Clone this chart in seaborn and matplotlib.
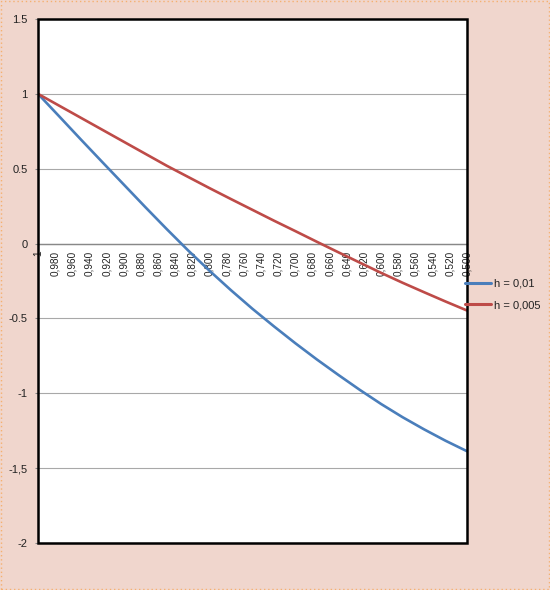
import matplotlib
matplotlib.use("Agg")
import matplotlib.pyplot as plt
import numpy as np
import pandas as pd
import seaborn as sns
from matplotlib.ticker import MultipleLocator
from matplotlib.lines import Line2D
from matplotlib.patches import Rectangle

# ---------------- data ----------------
x_values = [1.000, 0.975, 0.950, 0.925, 0.900, 0.875, 0.850, 0.825, 0.800, 0.775,
            0.750, 0.725, 0.700, 0.675, 0.650, 0.625, 0.600, 0.575, 0.550, 0.525, 0.500]
h_001 = [1.00, 0.848, 0.695, 0.544, 0.394, 0.244, 0.097, -0.046, -0.182, -0.312,
         -0.436, -0.553, -0.666, -0.774, -0.877, -0.977, -1.072, -1.160, -1.241, -1.317, -1.387]
h_0005 = [1.00, 0.92, 0.84, 0.76, 0.68, 0.60, 0.52, 0.445, 0.37, 0.297,
          0.225, 0.153, 0.083, 0.012, -0.058, -0.127, -0.196, -0.262, -0.325, -0.387, -0.447]
series_labels = ["h = 0,01", "h = 0,005"]

x_tick_values = [1.00, 0.98, 0.96, 0.94, 0.92, 0.90, 0.88, 0.86, 0.84, 0.82, 0.80, 0.78, 0.76,
                 0.74, 0.72, 0.70, 0.68, 0.66, 0.64, 0.62, 0.60, 0.58, 0.56, 0.54, 0.52, 0.50]
x_tick_labels = ["1", "0,980", "0,960", "0,940", "0,920", "0,900", "0,880", "0,860", "0,840",
                 "0,820", "0,800", "0,780", "0,760", "0,740", "0,720", "0,700", "0,680", "0,660",
                 "0,640", "0,620", "0,600", "0,580", "0,560", "0,540", "0,520", "0,500"]
y_tick_values = [-2.0, -1.5, -1.0, -0.5, 0.0, 0.5, 1.0, 1.5]
y_tick_labels = ["-2", "-1,5", "-1", "-0.5", "0", "0.5", "1", "1.5"]

# ---------------- styling ----------------
sns.set_theme(style="white")
plt.rcParams["font.family"] = ["Liberation Sans", "DejaVu Sans"]

BG = "#f0d6cd"
BLUE = "#4a7ebb"
RED = "#be4b48"
GRID = "#a8a8a8"
TEXT = "#222222"

W, H = 550, 590
fig = plt.figure(figsize=(W / 100, H / 100), dpi=100, facecolor=BG)
ax = fig.add_axes([38 / W, 1 - 543 / H, (467 - 38) / W, (543 - 19) / H])
ax.set_facecolor("white")

df = pd.DataFrame({
    "x": x_values + x_values,
    "y": h_001 + h_0005,
    "series": [series_labels[0]] * len(x_values) + [series_labels[1]] * len(x_values),
})
sns.lineplot(data=df, x="x", y="y", hue="series", palette=[BLUE, RED],
             hue_order=series_labels, linewidth=1.9, ax=ax, legend=False,
             sort=False, estimator=None, zorder=5)

ax.set_xlim(1.0, 0.5)
ax.set_ylim(-2.0, 1.5)
ax.set_xlabel("")
ax.set_ylabel("")

ax.set_yticks(y_tick_values, y_tick_labels)
ax.set_xticks(x_tick_values, x_tick_labels)
ax.xaxis.set_minor_locator(MultipleLocator(0.005))

ax.yaxis.grid(True, color=GRID, linewidth=0.8)
ax.xaxis.grid(False)
ax.set_axisbelow(True)

# x axis line at zero
for s in ["top", "left", "right"]:
    ax.spines[s].set_visible(False)
ax.spines["bottom"].set_position(("data", 0))
ax.spines["bottom"].set_color("#888888")
ax.spines["bottom"].set_linewidth(1.0)
ax.spines["bottom"].set_zorder(3)

# plot-area border
ax.add_patch(Rectangle((0, 0), 1, 1, transform=ax.transAxes, fill=False,
                       edgecolor="black", linewidth=1.8, clip_on=False, zorder=6))

ax.tick_params(axis="x", which="both", direction="out", length=3, width=0.8,
               color="#888888", labelsize=7.2, pad=2, labelcolor=TEXT,
               labelrotation=90)
ax.tick_params(axis="y", which="major", direction="out", length=2.5, width=0.8,
               color="#888888", labelsize=8, pad=5, labelcolor=TEXT, left=True)

handles = [Line2D([], [], color=BLUE, linewidth=2.2),
           Line2D([], [], color=RED, linewidth=2.2)]
fig.legend(handles=handles, labels=series_labels, loc="center left",
           bbox_to_anchor=(465 / W, 1 - 294.5 / H), frameon=False, fontsize=8,
           handlelength=2.3, handletextpad=0.3, labelspacing=1.05,
           borderpad=0, borderaxespad=0, labelcolor=TEXT)

# dotted orange frame along the image edge
fig.patches.append(Rectangle((0.002, 0.002), 0.996, 0.996, transform=fig.transFigure,
                             fill=False, edgecolor="#f5b070", linewidth=1.0,
                             linestyle=(0, (1, 2))))

fig.savefig("out.png", dpi=100, facecolor=BG)
